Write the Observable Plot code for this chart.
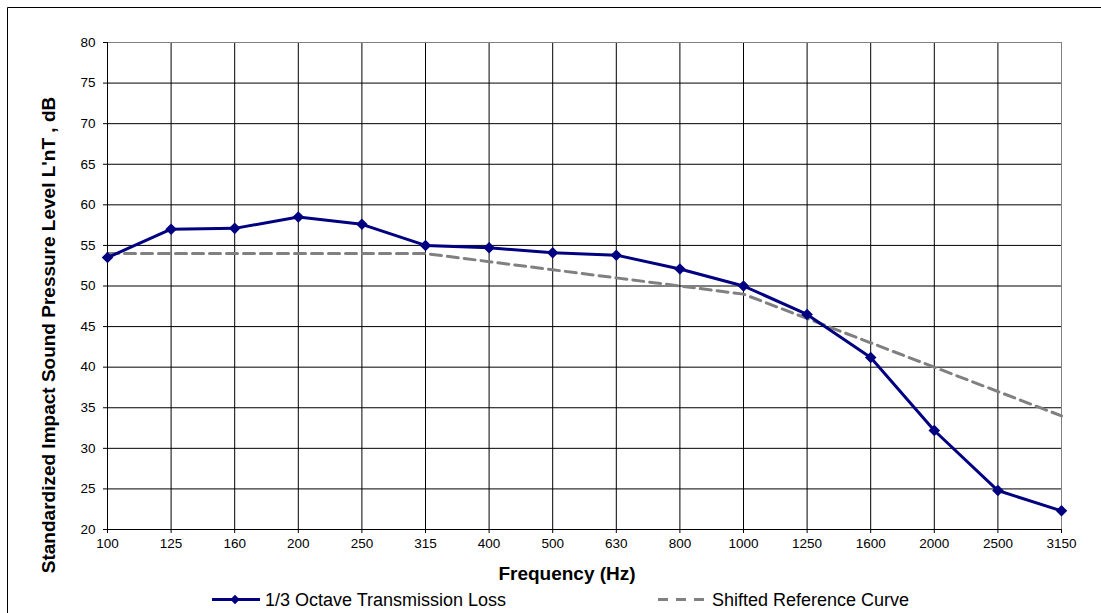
<!DOCTYPE html>
<html><head><meta charset="utf-8">
<script src="https://cdn.jsdelivr.net/npm/d3@7"></script>
<script src="https://cdn.jsdelivr.net/npm/@observablehq/plot@0.6"></script>
<style>body{margin:0;background:#fff;} svg{display:block;}</style>
</head><body><div id="chart"></div>
<script>
const frequencies = ["100","125","160","200","250","315","400","500","630","800","1000","1250","1600","2000","2500","3150"];
const transmissionLoss = [53.5,57.0,57.1,58.5,57.6,55.0,54.7,54.1,53.8,52.1,50.0,46.5,41.2,32.2,24.8,22.3];
const referenceCurve = [54,54,54,54,54,54,53,52,51,50,49,46,43,40,37,34];
const yTicks = [20,25,30,35,40,45,50,55,60,65,70,75,80];
const seriesNames = ["1/3 Octave Transmission Loss","Shifted Reference Curve"];
const xTitle = "Frequency (Hz)";
const yTitle = "Standardized Impact Sound Pressure Level L'nT , dB";

const tl = frequencies.map((f,i)=>({f, v: transmissionLoss[i]}));
const ref = frequencies.map((f,i)=>({f, v: referenceCurve[i]}));
const navy = "#000080", gray = "#808080";
const font = "'Liberation Sans', Arial, sans-serif";

const plot = Plot.plot({
  width: 1101, height: 613,
  marginLeft: 107, marginRight: 40, marginTop: 42, marginBottom: 84,
  style: {fontFamily: font, fontSize: "13.5px", background: "#fff", color: "#000"},
  x: {type: "point", domain: frequencies, padding: 0, round: false},
  y: {domain: [20, 80]},
  marks: [
    Plot.gridX(frequencies, {stroke: "#000", strokeOpacity: 1}),
    Plot.gridY(yTicks, {stroke: "#000", strokeOpacity: 1}),
    Plot.ruleY([80], {stroke: gray}),
    Plot.ruleX([frequencies[frequencies.length-1]], {stroke: gray}),
    Plot.axisX({ticks: frequencies, tickSize: 4, tickPadding: 5, label: null, fontSize: 13.5}),
    Plot.axisY({ticks: yTicks, tickSize: 4, tickPadding: 8, label: null, fontSize: 13.5}),
    Plot.ruleX([frequencies[0]], {stroke: "#000"}),
    Plot.ruleY([20], {stroke: "#000"}),
    Plot.line(ref, {x: "f", y: "v", stroke: gray, strokeWidth: 3, strokeDasharray: "11,6"}),
    Plot.line(tl, {x: "f", y: "v", stroke: navy, strokeWidth: 3}),
    Plot.dot(tl, {x: "f", y: "v", symbol: "diamond2", r: 5.2, fill: navy, stroke: "none"})
  ]
});
document.getElementById("chart").appendChild(plot);

const svg = d3.select(plot);
svg.append("path").attr("d", "M7.5,613V7.5H1101").attr("fill", "none").attr("stroke", "#000");
svg.append("text").text(yTitle)
  .attr("transform", "translate(48,335) rotate(-90)")
  .attr("text-anchor", "middle").attr("dominant-baseline", "central")
  .attr("font-family", font).attr("font-size", 19).attr("font-weight", "bold").attr("fill", "#000");
svg.append("text").text(xTitle)
  .attr("x", 567).attr("y", 573)
  .attr("text-anchor", "middle").attr("dominant-baseline", "central")
  .attr("font-family", font).attr("font-size", 19).attr("font-weight", "bold").attr("fill", "#000");

const legY = 599.5;
const leg = svg.append("g").attr("font-family", font).attr("font-size", 18).attr("fill", "#000").attr("text-anchor", "start");
leg.append("line").attr("x1", 212).attr("x2", 260).attr("y1", legY).attr("y2", legY)
  .attr("stroke", navy).attr("stroke-width", 3);
leg.append("path").attr("d", d3.symbol(d3.symbolDiamond2, Math.PI*4.3*4.3)())
  .attr("transform", `translate(235,${legY})`).attr("fill", navy);
leg.append("text").text(seriesNames[0]).attr("x", 265).attr("y", legY).attr("dominant-baseline", "central");
leg.append("line").attr("x1", 658).attr("x2", 708).attr("y1", legY).attr("y2", legY)
  .attr("stroke", gray).attr("stroke-width", 3).attr("stroke-dasharray", "10,8");
leg.append("text").text(seriesNames[1]).attr("x", 712).attr("y", legY).attr("dominant-baseline", "central");
</script>
</body></html>
